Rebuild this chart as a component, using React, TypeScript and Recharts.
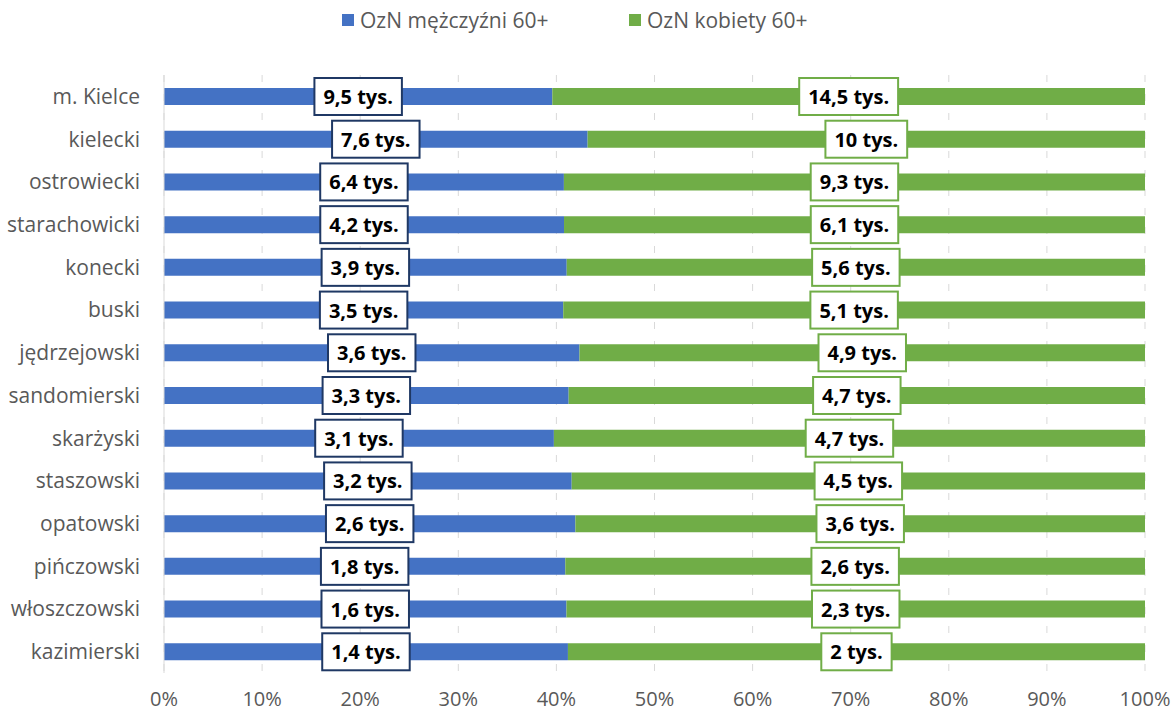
import React from "react";
import {
  BarChart,
  Bar,
  XAxis,
  YAxis,
  CartesianGrid,
  LabelList,
} from "recharts";

const CATEGORIES = [
  "m. Kielce",
  "kielecki",
  "ostrowiecki",
  "starachowicki",
  "konecki",
  "buski",
  "jędrzejowski",
  "sandomierski",
  "skarżyski",
  "staszowski",
  "opatowski",
  "pińczowski",
  "włoszczowski",
  "kazimierski",
];

// thousands of people
const MEN = [9.5, 7.6, 6.4, 4.2, 3.9, 3.5, 3.6, 3.3, 3.1, 3.2, 2.6, 1.8, 1.6, 1.4];
const WOMEN = [14.5, 10, 9.3, 6.1, 5.6, 5.1, 4.9, 4.7, 4.7, 4.5, 3.6, 2.6, 2.3, 2];

const X_TICKS = [0, 0.1, 0.2, 0.3, 0.4, 0.5, 0.6, 0.7, 0.8, 0.9, 1];

const SERIES_NAMES = ["OzN mężczyźni 60+", "OzN kobiety 60+"];

const BLUE = "#4472c4";
const GREEN = "#70ad47";
const NAVY = "#1f3864";
const TEXT_GREY = "#595959";
const FONT = "'Open Sans', sans-serif";
const LABEL_FONT_SIZE = 20;

const data = CATEGORIES.map((name, i) => ({
  name,
  men: MEN[i],
  women: WOMEN[i],
}));

let measureCtx: CanvasRenderingContext2D | null = null;

function textWidth(text: string): number {
  if (!measureCtx) {
    const canvas = document.createElement("canvas");
    measureCtx = canvas.getContext("2d");
  }
  if (!measureCtx) return text.length * 10;
  measureCtx.font = `700 ${LABEL_FONT_SIZE}px ${FONT}`;
  return measureCtx.measureText(text).width;
}

function formatThousands(value: number): string {
  return `${String(value).replace(".", ",")} tys.`;
}

function makeBoxLabel(values: number[], stroke: string) {
  return function BoxLabel(props: any) {
    const { x, y, width, height, index, value } = props;
    const raw = typeof index === "number" ? values[index] : Number(value);
    const text = formatThousands(raw);
    const w = textWidth(text) + 18;
    const h = 37;
    const cx = Number(x) + Number(width) / 2;
    const cy = Number(y) + Number(height) / 2;
    return (
      <g>
        <rect
          x={cx - w / 2}
          y={cy - h / 2}
          width={w}
          height={h}
          fill="#ffffff"
          stroke={stroke}
          strokeWidth={2}
        />
        <text
          x={cx}
          y={cy}
          textAnchor="middle"
          dominantBaseline="central"
          fontFamily={FONT}
          fontWeight={700}
          fontSize={LABEL_FONT_SIZE}
          fill="#000000"
        >
          {text}
        </text>
      </g>
    );
  };
}

function LegendRow() {
  const item = (color: string, label: string, left: number) => (
    <div
      style={{
        position: "absolute",
        left,
        top: 6,
        display: "flex",
        alignItems: "center",
        gap: 6,
      }}
    >
      <span style={{ width: 12, height: 12, backgroundColor: color, display: "inline-block" }} />
      <span style={{ fontFamily: FONT, fontSize: 21, color: TEXT_GREY, lineHeight: "28px" }}>
        {label}
      </span>
    </div>
  );
  return (
    <>
      {item(BLUE, SERIES_NAMES[0], 342)}
      {item(GREEN, SERIES_NAMES[1], 629)}
    </>
  );
}

export default function App() {
  return (
    <div
      style={{
        position: "absolute",
        left: 0,
        top: 0,
        width: 1174,
        height: 713,
        background: "#ffffff",
      }}
    >
      <LegendRow />
      <BarChart
        width={1174}
        height={713}
        data={data}
        layout="vertical"
        stackOffset="expand"
        margin={{ top: 75, right: 29, left: 0, bottom: 0 }}
      >
        <CartesianGrid
          horizontal={false}
          stroke="#d9d9d9"
          strokeDasharray="7 12"
        />
        <XAxis
          type="number"
          domain={[0, 1]}
          ticks={X_TICKS}
          tickFormatter={(v) => `${Math.round(Number(v) * 100)}%`}
          axisLine={false}
          tickLine={false}
          tickSize={0}
          tickMargin={19}
          height={40}
          interval={0}
          tick={{ fill: TEXT_GREY, fontSize: 20, fontFamily: FONT }}
        />
        <YAxis
          type="category"
          dataKey="name"
          width={164}
          axisLine={{ stroke: "#d9d9d9" }}
          tickLine={false}
          tickSize={0}
          tickMargin={24}
          interval={0}
          tick={{ fill: TEXT_GREY, fontSize: 21, fontFamily: FONT }}
        />
        <Bar
          dataKey="men"
          name={SERIES_NAMES[0]}
          stackId="a"
          fill={BLUE}
          barSize={17}
          isAnimationActive={false}
        >
          <LabelList dataKey="men" content={makeBoxLabel(MEN, NAVY)} />
        </Bar>
        <Bar
          dataKey="women"
          name={SERIES_NAMES[1]}
          stackId="a"
          fill={GREEN}
          barSize={17}
          isAnimationActive={false}
        >
          <LabelList dataKey="women" content={makeBoxLabel(WOMEN, GREEN)} />
        </Bar>
      </BarChart>
    </div>
  );
}
